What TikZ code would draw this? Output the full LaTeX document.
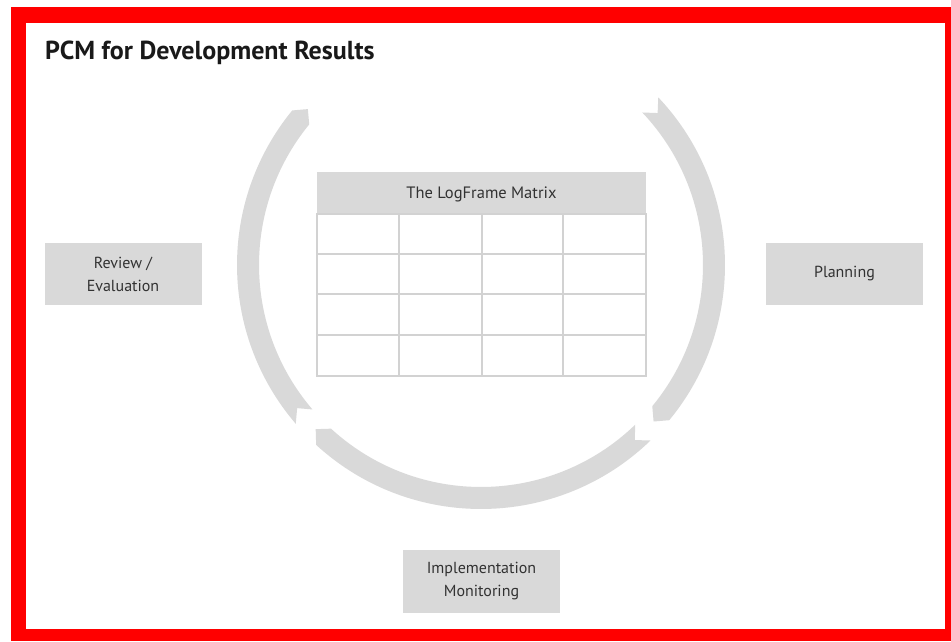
\documentclass[tikz,border=0pt]{standalone}
\usepackage{fontspec}
\setmainfont{PT Sans}
\definecolor{framered}{RGB}{255,0,0}
\definecolor{ringgray}{RGB}{217,217,217}
\definecolor{linegray}{RGB}{210,210,210}
\definecolor{txtgray}{RGB}{50,50,50}
\begin{document}
\begin{tikzpicture}[x=1pt,y=1pt,
  ring/.style={fill=ringgray},
  phasebox/.style={fill=ringgray, minimum width=157pt, minimum height=62pt, inner sep=0pt,
    align=center, text=txtgray, font=\fontsize{16}{23}\selectfont},
  grid/.style={draw=linegray, line width=1.6pt}]
\useasboundingbox (0,0) rectangle (951,641);
% red frame
\fill[framered] (11,0) rectangle (951,634);
\fill[white] (26,12) rectangle (945,618);
% title
\node[anchor=base west, inner sep=0pt, font=\bfseries\fontsize{26}{30}\selectfont, text=black!90] (title) at (45,581) {PCM for Development Results};
% ring of three arrows
\begin{scope}[shift={(481,376)}]
  \fill[ring] (43.4:244) arc[start angle=43.4, end angle=-39.5, radius=244]
    -- (-42.2:233) -- (-39.5:222) arc[start angle=-39.5, end angle=43.4, radius=222]
    -- (40.7:233) -- cycle;
  \fill[ring] (-46:244) arc[start angle=-46, end angle=-132.5, radius=244]
    -- (-135.2:233) -- (-132.5:222) arc[start angle=-132.5, end angle=-46, radius=222]
    -- (-48.7:233) -- cycle;
  \fill[ring] (220.6:244) arc[start angle=220.6, end angle=140.7, radius=244]
    -- (138:233) -- (140.7:222) arc[start angle=140.7, end angle=220.6, radius=222]
    -- (217.9:233) -- cycle;
\end{scope}
% logframe matrix
\fill[ringgray] (317,427) rectangle (646,469);
\node[text=txtgray, font=\fontsize{16.5}{19}\selectfont, inner sep=0pt] (hdr) at (481.5,447) {The LogFrame Matrix};
\draw[grid] (317,265) rectangle (646,427);
\draw[grid] (317,387) -- (646,387);
\draw[grid] (317,347) -- (646,347);
\draw[grid] (317,306) -- (646,306);
\draw[grid] (399,265) -- (399,427);
\draw[grid] (482,265) -- (482,427);
\draw[grid] (563,265) -- (563,427);
% phase boxes
\node[phasebox] (review) at (123,367) {Review /\\Evaluation};
\node[phasebox] (planning) at (844.5,367) {Planning};
\node[phasebox, minimum height=63pt] (impl) at (481.5,59.5) {Implementation\\Monitoring};
\end{tikzpicture}
\end{document}
